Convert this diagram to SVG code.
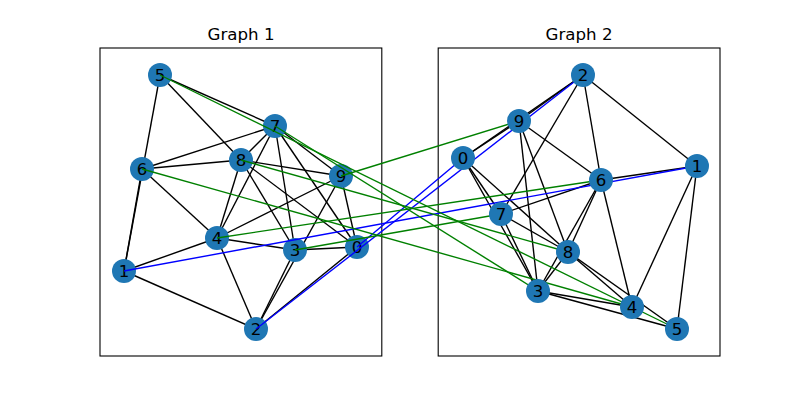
<svg xmlns="http://www.w3.org/2000/svg" width="800" height="400" viewBox="0 0 800 400">
<style>
.frame{fill:none;stroke:#000;stroke-width:1.1}
.title{font-family:"DejaVu Sans",sans-serif;font-size:16.67px;text-anchor:middle;fill:#000}
.e line{stroke:#000;stroke-width:1.39}
.node circle{fill:#1f77b4}
.node text{font-family:"DejaVu Sans",sans-serif;font-size:16.67px;text-anchor:middle;fill:#000}
.g{stroke:#008000;stroke-width:1.39}
.b{stroke:#0000ff;stroke-width:1.39}
</style>
<rect width="800" height="400" fill="#fff"/>
<rect class="frame" x="100" y="48" width="281.8" height="308"/>
<rect class="frame" x="438.2" y="48" width="281.8" height="308"/>
<text class="title" x="241" y="40">Graph 1</text>
<text class="title" x="579" y="40">Graph 2</text>
<g id="edges1" class="e">
<line x1="357" y1="247" x2="256" y2="329"/>
<line x1="357" y1="247" x2="295" y2="250"/>
<line x1="357" y1="247" x2="275" y2="126"/>
<line x1="357" y1="247" x2="241" y2="160"/>
<line x1="357" y1="247" x2="341" y2="176"/>
<line x1="124" y1="271" x2="256" y2="329"/>
<line x1="124" y1="271" x2="217" y2="238"/>
<line x1="124" y1="271" x2="142" y2="169"/>
<line x1="124" y1="271" x2="160" y2="75"/>
<line x1="256" y1="329" x2="295" y2="250"/>
<line x1="256" y1="329" x2="217" y2="238"/>
<line x1="256" y1="329" x2="341" y2="176"/>
<line x1="295" y1="250" x2="217" y2="238"/>
<line x1="295" y1="250" x2="275" y2="126"/>
<line x1="295" y1="250" x2="241" y2="160"/>
<line x1="217" y1="238" x2="142" y2="169"/>
<line x1="217" y1="238" x2="275" y2="126"/>
<line x1="217" y1="238" x2="241" y2="160"/>
<line x1="217" y1="238" x2="341" y2="176"/>
<line x1="160" y1="75" x2="275" y2="126"/>
<line x1="160" y1="75" x2="241" y2="160"/>
<line x1="142" y1="169" x2="275" y2="126"/>
<line x1="142" y1="169" x2="241" y2="160"/>
<line x1="275" y1="126" x2="241" y2="160"/>
<line x1="275" y1="126" x2="341" y2="176"/>
<line x1="241" y1="160" x2="341" y2="176"/>
</g>
<g id="g1n0" class="node"><circle cx="357" cy="247" r="12"/><text x="357" y="253">0</text></g>
<g id="g1n1" class="node"><circle cx="124" cy="271" r="12"/><text x="124" y="277">1</text></g>
<g id="g1n2" class="node"><circle cx="256" cy="329" r="12"/><text x="256" y="335">2</text></g>
<g id="g1n3" class="node"><circle cx="295" cy="250" r="12"/><text x="295" y="256">3</text></g>
<g id="g1n4" class="node"><circle cx="217" cy="238" r="12"/><text x="217" y="244">4</text></g>
<g id="g1n5" class="node"><circle cx="160" cy="75" r="12"/><text x="160" y="81">5</text></g>
<g id="g1n6" class="node"><circle cx="142" cy="169" r="12"/><text x="142" y="175">6</text></g>
<g id="g1n7" class="node"><circle cx="275" cy="126" r="12"/><text x="275" y="132">7</text></g>
<g id="g1n8" class="node"><circle cx="241" cy="160" r="12"/><text x="241" y="166">8</text></g>
<g id="g1n9" class="node"><circle cx="341" cy="176" r="12"/><text x="341" y="182">9</text></g>
<g id="edges2" class="e">
<line x1="463" y1="158" x2="583" y2="75"/>
<line x1="463" y1="158" x2="501" y2="214"/>
<line x1="463" y1="158" x2="538" y2="291"/>
<line x1="463" y1="158" x2="568" y2="252"/>
<line x1="463" y1="158" x2="519" y2="121"/>
<line x1="697" y1="166" x2="583" y2="75"/>
<line x1="697" y1="166" x2="601" y2="180"/>
<line x1="697" y1="166" x2="632" y2="307"/>
<line x1="697" y1="166" x2="677" y2="329"/>
<line x1="583" y1="75" x2="501" y2="214"/>
<line x1="583" y1="75" x2="601" y2="180"/>
<line x1="583" y1="75" x2="519" y2="121"/>
<line x1="501" y1="214" x2="601" y2="180"/>
<line x1="501" y1="214" x2="538" y2="291"/>
<line x1="501" y1="214" x2="568" y2="252"/>
<line x1="601" y1="180" x2="632" y2="307"/>
<line x1="601" y1="180" x2="538" y2="291"/>
<line x1="601" y1="180" x2="568" y2="252"/>
<line x1="601" y1="180" x2="519" y2="121"/>
<line x1="677" y1="329" x2="538" y2="291"/>
<line x1="677" y1="329" x2="568" y2="252"/>
<line x1="632" y1="307" x2="538" y2="291"/>
<line x1="632" y1="307" x2="568" y2="252"/>
<line x1="538" y1="291" x2="568" y2="252"/>
<line x1="538" y1="291" x2="519" y2="121"/>
<line x1="568" y1="252" x2="519" y2="121"/>
</g>
<g id="matches">
<line class="b" x1="357" y1="247" x2="463" y2="158"/>
<line class="b" x1="124" y1="271" x2="697" y2="166"/>
<line class="b" x1="256" y1="329" x2="583" y2="75"/>
<line class="g" x1="295" y1="250" x2="501" y2="214"/>
<line class="g" x1="217" y1="238" x2="601" y2="180"/>
<line class="g" x1="160" y1="75" x2="677" y2="329"/>
<line class="g" x1="142" y1="169" x2="632" y2="307"/>
<line class="g" x1="275" y1="126" x2="538" y2="291"/>
<line class="g" x1="241" y1="160" x2="568" y2="252"/>
<line class="g" x1="341" y1="176" x2="519" y2="121"/>
</g>
<g id="g2n0" class="node"><circle cx="463" cy="158" r="12"/><text x="463" y="164">0</text></g>
<g id="g2n1" class="node"><circle cx="697" cy="166" r="12"/><text x="697" y="172">1</text></g>
<g id="g2n2" class="node"><circle cx="583" cy="75" r="12"/><text x="583" y="81">2</text></g>
<g id="g2n3" class="node"><circle cx="538" cy="291" r="12"/><text x="538" y="297">3</text></g>
<g id="g2n4" class="node"><circle cx="632" cy="307" r="12"/><text x="632" y="313">4</text></g>
<g id="g2n5" class="node"><circle cx="677" cy="329" r="12"/><text x="677" y="335">5</text></g>
<g id="g2n6" class="node"><circle cx="601" cy="180" r="12"/><text x="601" y="186">6</text></g>
<g id="g2n7" class="node"><circle cx="501" cy="214" r="12"/><text x="501" y="220">7</text></g>
<g id="g2n8" class="node"><circle cx="568" cy="252" r="12"/><text x="568" y="258">8</text></g>
<g id="g2n9" class="node"><circle cx="519" cy="121" r="12"/><text x="519" y="127">9</text></g>
</svg>
